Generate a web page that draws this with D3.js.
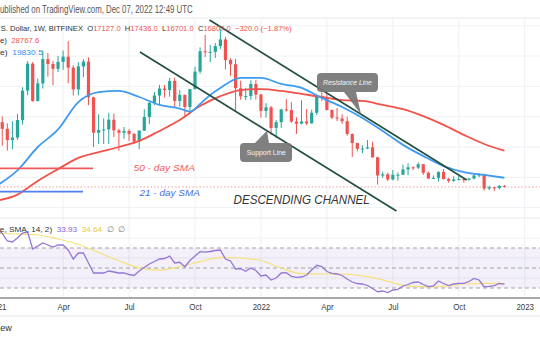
<!DOCTYPE html>
<html>
<head>
<meta charset="utf-8">
<script src="https://cdn.jsdelivr.net/npm/d3@7/dist/d3.min.js"></script>
<style>
html,body{margin:0;padding:0;background:#fff;}
svg{display:block;font-family:"Liberation Sans",Arial,sans-serif;}
text{white-space:pre;}
</style>
</head>
<body>
<svg id="chart" width="540" height="340"></svg>
<script>
// ---- weekly BTC/USD candles (Bitfinex), first week starting Monday 2021-01-04 ----
const firstWeek = "2021-01-04";
const opens = [
  33000,38200,36000,32300,33100,38900,48600,57500,45200,51000,
  59000,57400,55800,58100,59800,56200,49000,56600,58200,46400,
  34700,35600,35800,39000,35500,34700,35300,34300,31800,35400,
  39900,44600,47000,49300,48800,51800,45200,47200,43200,49100,
  54900,61600,61300,61400,63300,65500,58700,57300,49400,46700,
  46800,50800,47300,41900,43100,36300,38200,42400,42200,38400,
  37700,38400,37800,41300,46800,46400,42200,39700,39400,38500,
  34300,31300,29400,29500,29900,26600,20600,21000,19300,20800,
  20850,22600,23300,23200,24300,21500,19600,19800,21800,19400,
  18800,19300,19400,19200,19600,20600,21000,16300,16700,16500,
  17127];
const highs = [
  41900,40100,37800,38500,40900,49700,58300,58000,52600,61800,
  61000,58400,60000,61800,64900,57000,58000,59000,59600,46600,
  40800,39400,41300,41000,36000,36600,35900,34600,35500,42500,
  44700,48100,50500,50500,52800,52900,48800,47300,49200,56500,
  62900,67000,63700,64300,69000,66300,59300,59100,51900,49500,
  52000,52100,47600,44500,43500,38900,42600,45800,44800,39800,
  45400,42600,42300,46800,48200,47500,42400,42900,40800,40000,
  34500,31400,30600,32300,31700,26800,21900,21500,22400,21600,
  24200,24600,23600,24900,24400,21900,20600,21900,22700,19900,
  20300,20500,19500,19700,21000,21400,21100,17200,16800,17400,
  17436];
const lows = [
  28000,30400,28800,29300,32300,37400,47100,44900,45000,49300,
  53200,50400,54700,55500,51000,47000,47000,53000,43800,30000,
  31000,31000,31000,33300,28800,32700,32000,31000,29300,35300,
  37600,43800,43900,46300,46600,43000,43300,39600,40800,49000,
  54200,59700,58000,59400,62300,55600,53500,42000,45600,45500,
  45600,45700,39700,39700,34000,32900,36300,41700,38000,34300,
  37500,37200,37700,40500,45200,42100,39200,38600,37600,33700,
  26700,28600,28000,29300,26500,17600,19800,18800,19000,18900,
  20800,20700,22400,22700,20800,19500,19500,18600,19300,18200,
  18500,19000,18200,18900,19300,20000,15600,15800,15500,16000,
  16701];
const closes = [
  38200,36000,32300,33100,38900,48600,57500,45200,51000,59000,
  57400,55800,58100,59800,56200,49000,56600,58200,46400,34700,
  35600,35800,39000,35500,34700,35300,34300,31800,35400,39900,
  44600,47000,49300,48800,51800,45200,47200,43200,49100,54900,
  61600,61300,61400,63300,65500,58700,57300,49400,46700,46800,
  50800,47300,41900,43100,36300,38200,42400,42200,38400,37700,
  38400,37800,41300,46800,46400,42200,39700,39400,38500,34300,
  31300,29400,29500,29900,26600,20600,21000,19300,20800,20850,
  22600,23300,23200,24300,21500,19600,19800,21800,19400,18800,
  19300,19400,19200,19600,20600,21000,16300,16700,16500,17127,
  16807];

// ---- moving averages (week index -> value) ----
const sma21Weeks = [0,4,8,12,16,20,24,28,32,36,38,40,42,44,48,52,56,60,64,68,72,76,80,84,88,92,96,100];
const sma21Values = [17300,22300,30000,35800,44800,48100,48500,46500,43900,42700,41700,44200,47200,49500,
  52800,52800,50800,49500,46200,43200,39600,35300,30700,27000,23700,21700,20800,19830.5];
const sma50Weeks = [0,4,8,12,16,20,24,28,32,36,40,44,48,52,56,60,64,68,72,76,80,84,88,92,96,100];
const sma50Values = [12300,14300,18800,22700,26400,28300,30000,32000,35300,38900,43500,46800,48800,
  49100,48500,47500,46500,45500,45200,43900,42500,40200,37300,34000,31000,28767.6];

// ---- RSI (14) weekly and its SMA ----
const rsiValues = [
  89,84.5,77,76,80,85,86,69,72,75,
  73,71,73,73,68,59,65,65,55,45,
  45,45,47,46,45,45,43.5,42.5,47,50.5,
  54,56.5,59,59.5,62,55,55.7,51.3,57.5,62,
  66.3,65.8,66.5,67.5,68,59,57,49,49.3,46.7,
  50,47.5,42,43,38,40,45,45.3,41.5,40.7,
  41,43,48,52.7,51.5,46.5,44.7,44,42.5,39,
  36,34.5,34,32.5,29.5,26.3,27,25.5,28,28.7,
  32,33.5,35.5,36,33.5,31.3,32,37,34.5,32.5,
  34,34.7,34.7,36.5,39.5,38,31.3,31.7,32.3,34.5,
  33.93];
const rsiMaWeeks = [0,4,8,12,16,20,24,28,32,36,40,44,48,52,56,60,64,68,72,76,80,84,88,92,96,100];
const rsiMaValues = [84.7,84,83,79,73.7,65.5,57.2,50.2,47.8,51.5,56.3,60.7,60,57.5,50,44.3,44,44,42.2,38.2,
  32.7,31.3,31.8,34,34.7,34.64];
const rsiLevels = [70,50,30];

// ---- trend channel drawings ----
const resistanceLine = [["2021-10-24",71900],["2022-10-14",19100]];
const supportLine = [["2021-07-20",61350],["2022-07-09",8880]];

// ---- time axis ----
const tickDates = ["2021-01-04","2021-04-05","2021-07-05","2021-10-04","2022-01-03","2022-04-04","2022-07-04","2022-10-03","2023-01-02"];
const tickLabels = ["2021","Apr","Jul","Oct","2022","Apr","Jul","Oct","2023"];

// ---- colours ----
const UP = "#26a69a", DOWN = "#ef5350", GRID = "#eef1f6";
const C_SMA50 = "#f2524a", C_SMA21 = "#3f9bf0", C_RSI = "#9476d6", C_RSIMA = "#f5e27a";
const C_CHANNEL = "#244f40";

const svg = d3.select("#chart");
const parse = d3.utcParse("%Y-%m-%d");
const weeks = d3.utcMonday.range(parse(firstWeek), d3.utcDay.offset(parse(firstWeek), 7 * closes.length));

const x = d3.scaleUtc().domain([parse("2021-01-01"), parse("2023-01-01")]).range([-5, 524]);
const yP = d3.scaleLinear().domain([0, 70000]).range([237.9, 25.8]);
const yR = d3.scaleLinear().domain([20, 100]).range([298, 218]);

const TOP = 18, SPLIT = 218, AXIS = 298, FOOT = 316;

// horizontal text fitting: maps the part of the string after `skip` chars onto [x0, x1]
function fitText(t, skip, x0, x1) {
  const n = t.node();
  const full = n.getComputedTextLength();
  const pre = skip > 0 ? n.getSubStringLength(0, skip) : 0;
  const f = (x1 - x0) / (full - pre);
  t.attr("x", 0).attr("transform", `translate(${x0 - pre * f},0) scale(${f},1)`);
}

// ---- frame & grid ----
const grid = svg.append("g");
grid.append("line").attr("x1", 0).attr("x2", 540).attr("y1", TOP).attr("y2", TOP).attr("stroke", "#e6e8ec");
grid.selectAll(".vg").data(tickDates).join("line")
  .attr("x1", d => x(parse(d))).attr("x2", d => x(parse(d)))
  .attr("y1", TOP).attr("y2", AXIS).attr("stroke", GRID);
grid.selectAll(".hg").data(d3.range(10000, 70001, 10000)).join("line")
  .attr("x1", 0).attr("x2", 540).attr("y1", d => yP(d)).attr("y2", d => yP(d)).attr("stroke", GRID);
grid.selectAll(".rg").data([40, 60, 80]).join("line")
  .attr("x1", 0).attr("x2", 540).attr("y1", d => yR(d)).attr("y2", d => yR(d)).attr("stroke", GRID);
grid.append("line").attr("x1", 0).attr("x2", 540).attr("y1", SPLIT).attr("y2", SPLIT).attr("stroke", "#e6e8ec");

// ---- RSI pane ----
const rsiG = svg.append("g");
rsiG.append("rect").attr("x", 0).attr("width", 540)
  .attr("y", yR(70)).attr("height", yR(30) - yR(70))
  .attr("fill", "#7e57c2").attr("fill-opacity", 0.09);
rsiG.selectAll(".lv").data(rsiLevels).join("line")
  .attr("x1", 0).attr("x2", 540).attr("y1", d => yR(d)).attr("y2", d => yR(d))
  .attr("stroke", "#a3a3a8").attr("stroke-dasharray", "4,3");
rsiG.append("path")
  .datum(rsiMaWeeks.map((w, i) => ({ t: weeks[w], v: rsiMaValues[i] })))
  .attr("fill", "none").attr("stroke", C_RSIMA).attr("stroke-width", 1.2)
  .attr("d", d3.line().x(d => x(d.t)).y(d => yR(d.v)).curve(d3.curveMonotoneX));
rsiG.append("path")
  .datum(rsiValues.map((v, i) => ({ t: weeks[i], v })))
  .attr("fill", "none").attr("stroke", C_RSI).attr("stroke-width", 1.3)
  .attr("d", d3.line().x(d => x(d.t)).y(d => yR(d.v)));

// ---- last price line ----
svg.append("line").attr("x1", 0).attr("x2", 540)
  .attr("y1", yP(closes[closes.length - 1])).attr("y2", yP(closes[closes.length - 1]))
  .attr("stroke", "#f29b9b").attr("stroke-dasharray", "1.5,2");

// ---- candles ----
const candles = weeks.map((t, i) => ({ t, o: opens[i], h: highs[i], l: lows[i], c: closes[i] }));
const cg = svg.append("g").selectAll("g").data(candles).join("g");
cg.append("line")
  .attr("x1", d => x(d.t)).attr("x2", d => x(d.t))
  .attr("y1", d => yP(d.h)).attr("y2", d => yP(d.l))
  .attr("stroke", d => d.c >= d.o ? UP : DOWN).attr("stroke-width", 1);
cg.append("rect")
  .attr("x", d => x(d.t) - 1.6).attr("width", 3.2)
  .attr("y", d => yP(Math.max(d.o, d.c)))
  .attr("height", d => Math.max(1, Math.abs(yP(d.o) - yP(d.c))))
  .attr("fill", d => d.c >= d.o ? UP : DOWN);

// ---- moving averages ----
const maLine = d3.line().x(d => x(d.t)).y(d => yP(d.v)).curve(d3.curveMonotoneX);
svg.append("path").datum(sma50Weeks.map((w, i) => ({ t: weeks[w], v: sma50Values[i] })))
  .attr("fill", "none").attr("stroke", C_SMA50).attr("stroke-width", 1.8).attr("d", maLine);
svg.append("path").datum(sma21Weeks.map((w, i) => ({ t: weeks[w], v: sma21Values[i] })))
  .attr("fill", "none").attr("stroke", C_SMA21).attr("stroke-width", 1.8).attr("d", maLine);

// ---- channel lines ----
const chan = d3.line().x(d => x(parse(d[0]))).y(d => yP(d[1]));
[resistanceLine, supportLine].forEach(l => {
  svg.append("path").datum(l).attr("d", chan)
    .attr("stroke", C_CHANNEL).attr("stroke-width", 1.7).attr("fill", "none");
});
function lineYAt(l, px) {
  const x1 = x(parse(l[0][0])), y1 = yP(l[0][1]), x2 = x(parse(l[1][0])), y2 = yP(l[1][1]);
  return y1 + (px - x1) * (y2 - y1) / (x2 - x1);
}

// ---- callouts ----
function callout(x0, y0, x1, y1, r, side, b0, b1, tx, ty) {
  const p = d3.path();
  p.moveTo(x0 + r, y0);
  if (side === "top") { p.lineTo(b0, y0); p.lineTo(tx, ty); p.lineTo(b1, y0); }
  p.lineTo(x1 - r, y0); p.arcTo(x1, y0, x1, y0 + r, r);
  p.lineTo(x1, y1 - r); p.arcTo(x1, y1, x1 - r, y1, r);
  if (side === "bottom") { p.lineTo(b1, y1); p.lineTo(tx, ty); p.lineTo(b0, y1); }
  p.lineTo(x0 + r, y1); p.arcTo(x0, y1, x0, y1 - r, r);
  p.lineTo(x0, y0 + r); p.arcTo(x0, y0, x0 + r, y0, r);
  p.closePath();
  return p.toString();
}
svg.append("path").attr("d", callout(317, 73, 378, 92, 4, "bottom", 344, 356, 361, lineYAt(resistanceLine, 361)))
  .attr("fill", "#767676").attr("fill-opacity", 0.93);
svg.append("path").attr("d", callout(240, 143, 292, 162, 4, "top", 255, 269, 267, lineYAt(supportLine, 267)))
  .attr("fill", "#767676").attr("fill-opacity", 0.93);
const rt = svg.append("text").attr("y", 85.3).attr("font-size", 8).attr("font-style", "italic")
  .attr("fill", "#f4f4f4").text("Resistance Line");
fitText(rt, 0, 323, 372);
const st = svg.append("text").attr("y", 155.3).attr("font-size", 7.5)
  .attr("fill", "#f4f4f4").text("Support Line");
fitText(st, 0, 246.7, 286);

// ---- annotation labels ----
svg.append("line").attr("x1", 0).attr("x2", 93).attr("y1", 168.3).attr("y2", 168.3)
  .attr("stroke", "#f05a5c").attr("stroke-width", 1.8);
svg.append("line").attr("x1", 0).attr("x2", 83).attr("y1", 191.7).attr("y2", 191.7)
  .attr("stroke", "#4f7ff0").attr("stroke-width", 1.8);
const l50 = svg.append("text").attr("y", 171.3).attr("font-size", 9.5).attr("font-style", "italic")
  .attr("fill", "#f05a5c").text("50 - day SMA");
fitText(l50, 0, 133.5, 195);
const l21 = svg.append("text").attr("y", 196).attr("font-size", 9.5).attr("font-style", "italic")
  .attr("fill", "#3f6fe6").text("21 - day SMA");
fitText(l21, 0, 139.5, 200);
const dc = svg.append("text").attr("y", 204).attr("font-size", 12.8).attr("font-style", "italic")
  .attr("fill", "#353535").text("DESCENDING CHANNEL");
fitText(dc, 0, 233.5, 370);

// ---- header & legends ----
const hdr = svg.append("text").attr("y", 13.3).attr("font-size", 10.5).attr("fill", "#555")
  .text("Published on TradingView.com, Dec 07, 2022 12:49 UTC");
fitText(hdr, 1, 0, 193);

const leg = svg.append("text").attr("y", 31).attr("font-size", 7.6).attr("fill", "#333");
const ohlc = [["Bitcoin / U.S. Dollar, 1W, BITFINEX  ", "#333"], ["O", "#333"], [opens[100].toFixed(1) + "  ", DOWN],
  ["H", "#333"], [highs[100].toFixed(1) + "  ", DOWN], ["L", "#333"], [lows[100].toFixed(1) + "  ", DOWN],
  ["C", "#333"], [closes[100].toFixed(1) + "  ", DOWN],
  [`−${(opens[100] - closes[100]).toFixed(1)} (−${((opens[100] - closes[100]) / opens[100] * 100).toFixed(2)}%)`, DOWN]];
ohlc.forEach(([s, c]) => leg.append("tspan").attr("fill", c).text(s));
fitText(leg, 12, 0.7, 291.7);

const leg2 = svg.append("text").attr("y", 42.7).attr("font-size", 7.6).attr("fill", "#333");
leg2.append("tspan").text("SMA (50, close)  ");
leg2.append("tspan").attr("fill", DOWN).text(sma50Values[sma50Values.length - 1].toFixed(1));
fitText(leg2, 13, 0, 39.5);
const leg3 = svg.append("text").attr("y", 55).attr("font-size", 7.6).attr("fill", "#333");
leg3.append("tspan").text("SMA (21, close)  ");
leg3.append("tspan").attr("fill", "#2b8ff0").text(sma21Values[sma21Values.length - 1].toFixed(1));
fitText(leg3, 13, 0, 43);

const leg4 = svg.append("text").attr("y", 232.3).attr("font-size", 8).attr("fill", "#333");
leg4.append("tspan").text("RSI (14, close, SMA, 14, 2)  ");
leg4.append("tspan").attr("fill", "#8a63d2").text(rsiValues[rsiValues.length - 1].toFixed(2) + "  ");
leg4.append("tspan").attr("fill", "#e3cc45").text(rsiMaValues[rsiMaValues.length - 1].toFixed(2) + "  ");
leg4.append("tspan").attr("fill", "#777").text("∅  ∅");
fitText(leg4, 13, 0, 126);

// ---- time axis ----
svg.append("line").attr("x1", 0).attr("x2", 540).attr("y1", AXIS).attr("y2", AXIS)
  .attr("stroke", "#8d8d8d").attr("stroke-width", 1.4);
const ax = svg.append("g").attr("transform", `translate(0,${AXIS})`)
  .call(d3.axisBottom(x).tickValues(tickDates.map(parse)).tickFormat((d, i) => tickLabels[i])
    .tickSize(0).tickPadding(6));
ax.select(".domain").remove();
ax.selectAll("text").attr("font-size", 8.8).attr("fill", "#3a3a3a")
  .attr("font-family", "'Liberation Sans',Arial,sans-serif").attr("transform", "scale(0.9,1)");
svg.append("line").attr("x1", 0).attr("x2", 540).attr("y1", FOOT).attr("y2", FOOT).attr("stroke", "#e6e8ec");
svg.append("text").attr("x", 11.7).attr("y", 331).attr("text-anchor", "end")
  .attr("font-size", 9).attr("fill", "#333").text("TradingView");
</script>
</body>
</html>
